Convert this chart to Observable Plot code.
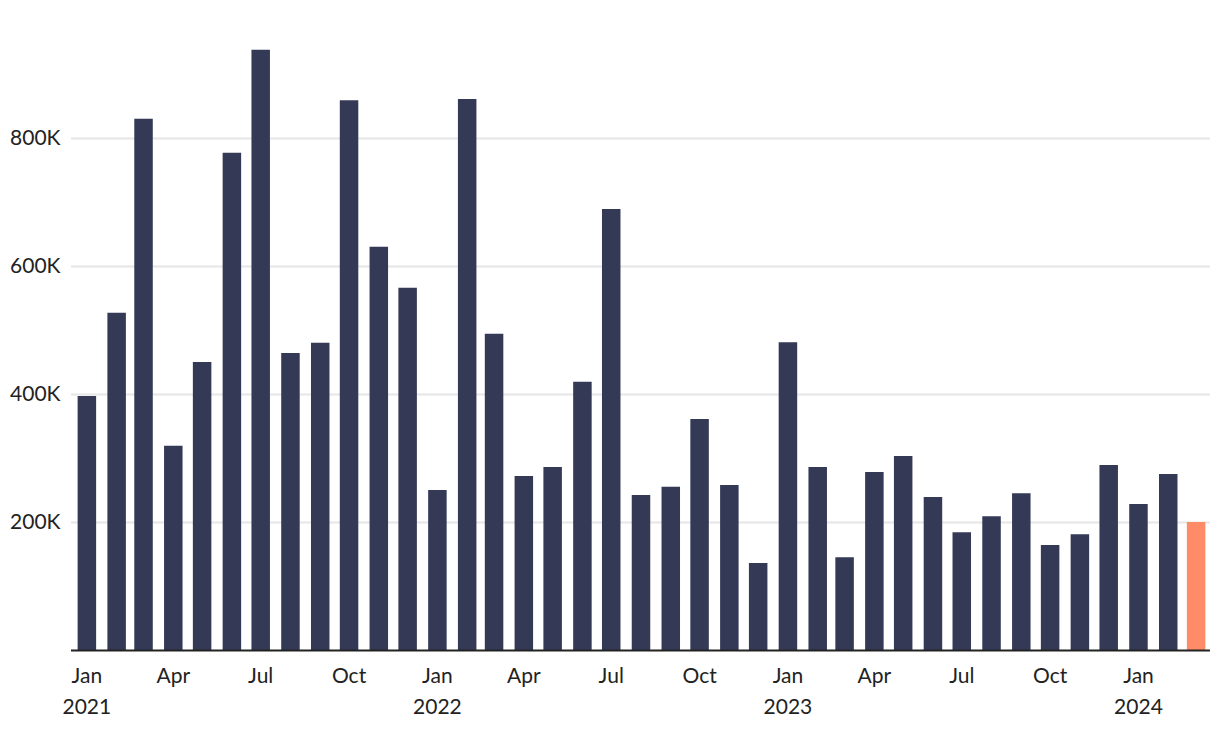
<!DOCTYPE html>
<html>
<head>
<meta charset="utf-8">
<script src="https://cdn.jsdelivr.net/npm/d3@7"></script>
<script src="https://cdn.jsdelivr.net/npm/@observablehq/plot@0.6"></script>
<style>
  html, body { margin: 0; padding: 0; background: #fff; }
  #chart svg { display: block; }
</style>
</head>
<body>
<div id="chart"></div>
<script>
// Months (first of month) and values
const months = [
  "2021-01","2021-02","2021-03","2021-04","2021-05","2021-06","2021-07","2021-08","2021-09","2021-10","2021-11","2021-12",
  "2022-01","2022-02","2022-03","2022-04","2022-05","2022-06","2022-07","2022-08","2022-09","2022-10","2022-11","2022-12",
  "2023-01","2023-02","2023-03","2023-04","2023-05","2023-06","2023-07","2023-08","2023-09","2023-10","2023-11","2023-12",
  "2024-01","2024-02","2024-03"
];
const values = [
  397000, 527000, 830000, 319000, 450000, 777000, 938000, 464000, 480000, 859000, 630000, 566000,
  250000, 861000, 494000, 272000, 286000, 419000, 689000, 242000, 255000, 361000, 258000, 136000,
  481000, 286000, 145000, 278000, 303000, 239000, 184000, 209000, 245000, 164000, 181000, 289000,
  228000, 275000, 200000
];
const highlightMonths = ["2024-03"];
const yTicks = [200000, 400000, 600000, 800000];
const xTickMonths = [
  "2021-01","2021-04","2021-07","2021-10",
  "2022-01","2022-04","2022-07","2022-10",
  "2023-01","2023-04","2023-07","2023-10",
  "2024-01"
];
const xDomain = ["2020-12-16", "2024-03-16"];
const yDomain = [0, 1000000];

const navy = "#343a56";
const orange = "#ff8c69";

const toDate = (s) => new Date(s.length === 7 ? s + "-01T00:00:00Z" : s + "T00:00:00Z");
const data = months.map((m, i) => ({date: toDate(m), value: values[i], hl: highlightMonths.includes(m)}));
const xTicks = xTickMonths.map(toDate);
const monthFmt = d3.utcFormat("%b");
const tickFmt = (d) => d.getUTCMonth() === 0 ? `${monthFmt(d)}\n${d.getUTCFullYear()}` : monthFmt(d);

const chart = Plot.plot({
  width: 1220,
  height: 738,
  marginLeft: 71,
  marginRight: 10,
  marginTop: 10,
  marginBottom: 88,
  style: {fontFamily: "Lato, 'Noto Sans', sans-serif", background: "#fff", color: "#222"},
  x: {type: "utc", domain: xDomain.map(toDate)},
  y: {domain: yDomain},
  marks: [
    Plot.gridY(yTicks, {stroke: "#e6e6e6", strokeOpacity: 1, strokeWidth: 2}),
    Plot.ruleX(data.filter(d => !d.hl), {x: "date", y1: 0, y2: "value", stroke: navy, strokeWidth: 18.5}),
    Plot.ruleX(data.filter(d => d.hl), {x: "date", y1: 0, y2: "value", stroke: orange, strokeWidth: 18.5}),
    Plot.ruleY([0], {stroke: "#222", strokeWidth: 2}),
    Plot.axisY(yTicks, {tickSize: 0, tickPadding: 11, tickFormat: d => d / 1000 + "K", fontSize: 21, fill: "#222", label: null}),
    Plot.axisX(xTicks, {tickSize: 0, tickPadding: 10, tickFormat: tickFmt, fontSize: 21, lineHeight: 1.5, fill: "#222", label: null})
  ]
});
document.getElementById("chart").appendChild(chart);
</script>
</body>
</html>
